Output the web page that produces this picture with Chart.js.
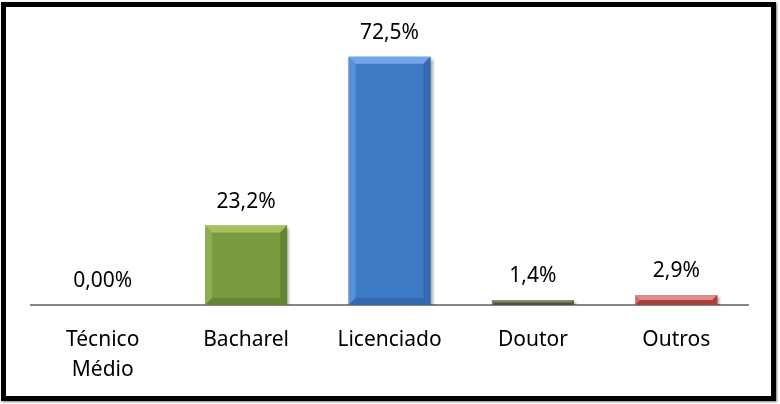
<!DOCTYPE html>
<html>
<head>
<meta charset="utf-8">
<script src="https://cdn.jsdelivr.net/npm/chart.js@4/dist/chart.umd.min.js"></script>
<style>
  html, body { margin: 0; padding: 0; background: #ffffff; }
  #wrap { position: relative; width: 780px; height: 404px; overflow: hidden; }
  #c { position: absolute; left: 0; top: 0; }
  #frame { position: absolute; left: 1px; top: 2px; width: 765px; height: 389px;
           border: 5px solid #000; box-shadow: 1px 1px 2px rgba(0,0,0,0.5); pointer-events: none; }
</style>
</head>
<body>
<div id="wrap">
  <canvas id="c" width="780" height="404"></canvas>
  <div id="frame"></div>
</div>
<script>
const categories = [['Técnico', 'Médio'], 'Bacharel', 'Licenciado', 'Doutor', 'Outros'];
const values = [0, 23.2, 72.5, 1.4, 2.9];
const valueLabels = ['0,00%', '23,2%', '72,5%', '1,4%', '2,9%'];
const barColors = ['#7a9a3f', '#7a9a3f', '#3e7bc6', '#66664c', '#c0504d'];
const lightColors = ['#a3c15e', '#a3c15e', '#73a5e6', '#8a8a6c', '#de8d8a'];
const darkColors = ['#5f7a2e', '#5f7a2e', '#2f63a6', '#4c4c38', '#9c3a38'];

const FONT = '"Noto Sans", "Open Sans", sans-serif';
const FONT_SIZE = 21;

const bevelPlugin = {
  id: 'bevel',
  beforeDatasetsDraw(chart) {
    const ctx = chart.ctx;
    ctx.save();
    ctx.shadowColor = 'rgba(0,0,0,0.35)';
    ctx.shadowOffsetX = 2;
    ctx.shadowOffsetY = 2;
    ctx.shadowBlur = 3;
  },
  afterDatasetsDraw(chart) {
    const ctx = chart.ctx;
    ctx.restore();
    const meta = chart.getDatasetMeta(0);
    meta.data.forEach((bar, i) => {
      const p = bar.getProps(['x', 'y', 'base', 'width'], true);
      const l = p.x - p.width / 2, r = p.x + p.width / 2;
      const t = Math.min(p.y, p.base), bt = Math.max(p.y, p.base);
      const h = bt - t;
      if (h < 1) return;
      const b = Math.min(7, h / 2);
      ctx.save();
      const poly = (pts, col) => {
        ctx.beginPath();
        ctx.moveTo(pts[0][0], pts[0][1]);
        for (let k = 1; k < pts.length; k++) ctx.lineTo(pts[k][0], pts[k][1]);
        ctx.closePath();
        ctx.fillStyle = col;
        ctx.fill();
      };
      poly([[l, t], [r, t], [r - b, t + b], [l + b, t + b]], lightColors[i]);
      ctx.globalAlpha = 0.5;
      poly([[l, t], [l + b, t + b], [l + b, bt - b], [l, bt]], lightColors[i]);
      ctx.globalAlpha = 0.7;
      poly([[r, t], [r - b, t + b], [r - b, bt - b], [r, bt]], darkColors[i]);
      poly([[l, bt], [l + b, bt - b], [r - b, bt - b], [r, bt]], darkColors[i]);
      ctx.restore();
    });
    // value labels
    ctx.save();
    ctx.font = FONT_SIZE + 'px ' + FONT;
    ctx.fillStyle = '#000';
    ctx.textAlign = 'center';
    ctx.textBaseline = 'middle';
    meta.data.forEach((bar, i) => {
      const p = bar.getProps(['x', 'y'], true);
      ctx.fillText(valueLabels[i], p.x, p.y - 24);
    });
    ctx.restore();
  }
};

new Chart(document.getElementById('c'), {
  type: 'bar',
  data: {
    labels: categories,
    datasets: [{
      data: values,
      backgroundColor: barColors,
      borderWidth: 0,
      barPercentage: 0.572,
      categoryPercentage: 1.0
    }]
  },
  options: {
    responsive: false,
    devicePixelRatio: 1,
    animation: false,
    layout: { padding: { left: 31, right: 32, top: 31, bottom: 0 } },
    plugins: { legend: { display: false }, tooltip: { enabled: false } },
    scales: {
      x: {
        grid: { display: false, drawTicks: false },
        border: { display: true, color: '#868686', width: 2 },
        ticks: { color: '#000', font: { family: FONT, size: FONT_SIZE, lineHeight: 30 / FONT_SIZE }, padding: 20, maxRotation: 0 },
        afterFit(scale) { scale.height = 99; }
      },
      y: {
        display: false,
        min: 0,
        max: 80
      }
    }
  },
  plugins: [bevelPlugin]
});
</script>
</body>
</html>
